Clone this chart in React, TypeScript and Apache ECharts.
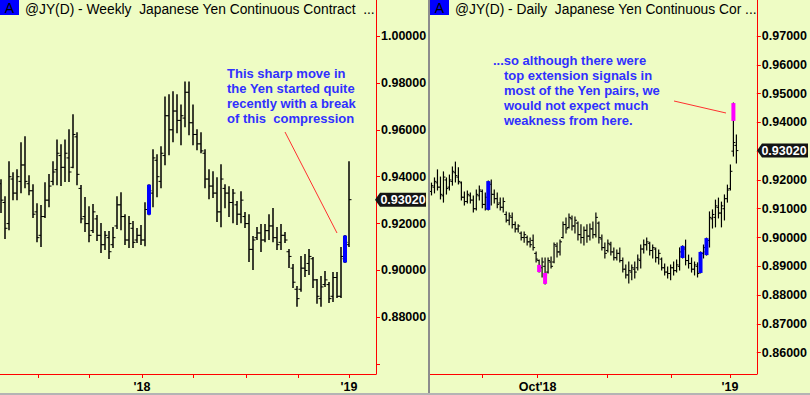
import React, { useEffect, useRef } from 'react';
import * as echarts from 'echarts';

// ---------- Weekly @JY(D) bars (open, high, low, close) ----------
const weeklyOpen = [
  0.9370, 0.9290, 0.9200, 0.9390, 0.9330, 0.9380, 0.9450, 0.9370, 0.9340, 0.9250,
  0.9150, 0.9230, 0.9300, 0.9380, 0.9430, 0.9490, 0.9440, 0.9480, 0.9440, 0.9570,
  0.9350, 0.9230, 0.9200, 0.9170, 0.9220, 0.9150, 0.9110, 0.9140, 0.9110, 0.9190,
  0.9280, 0.9230, 0.9130, 0.9180, 0.9130, 0.9150, 0.9130, 0.9260, 0.9330, 0.9470,
  0.9380, 0.9490, 0.9660, 0.9600, 0.9680, 0.9640, 0.9650, 0.9760, 0.9630, 0.9580,
  0.9540, 0.9500, 0.9390, 0.9360, 0.9330, 0.9250, 0.9350, 0.9330, 0.9290, 0.9280,
  0.9240, 0.9230, 0.9200, 0.9090, 0.9140, 0.9160, 0.9130, 0.9170, 0.9190, 0.9140,
  0.9120, 0.9150, 0.9080, 0.9010, 0.8920, 0.8920, 0.9010, 0.9030, 0.9050, 0.8960,
  0.8880, 0.8940, 0.8940, 0.8890, 0.8970, 0.8890, 0.9050, 0.9110,
];
const weeklyHigh = [
  0.9387, 0.9315, 0.9464, 0.9417, 0.9430, 0.9545, 0.9570, 0.9404, 0.9366, 0.9285,
  0.9277, 0.9374, 0.9409, 0.9464, 0.9557, 0.9536, 0.9557, 0.9600, 0.9664, 0.9587,
  0.9362, 0.9311, 0.9272, 0.9281, 0.9234, 0.9200, 0.9166, 0.9166, 0.9183, 0.9315,
  0.9332, 0.9238, 0.9230, 0.9209, 0.9179, 0.9192, 0.9289, 0.9366, 0.9515, 0.9494,
  0.9528, 0.9740, 0.9749, 0.9762, 0.9749, 0.9706, 0.9804, 0.9804, 0.9706, 0.9600,
  0.9587, 0.9515, 0.9430, 0.9421, 0.9396, 0.9451, 0.9366, 0.9357, 0.9345, 0.9294,
  0.9336, 0.9247, 0.9238, 0.9145, 0.9183, 0.9196, 0.9196, 0.9238, 0.9264, 0.9183,
  0.9196, 0.9162, 0.9089, 0.9026, 0.8932, 0.9060, 0.9068, 0.9089, 0.9055, 0.8962,
  0.8974, 0.8996, 0.8949, 0.8991, 0.8991, 0.9098, 0.9149, 0.9464,
];
const weeklyLow = [
  0.9247, 0.9136, 0.9174, 0.9302, 0.9302, 0.9332, 0.9353, 0.9323, 0.9226, 0.9123,
  0.9102, 0.9226, 0.9272, 0.9366, 0.9366, 0.9362, 0.9379, 0.9379, 0.9438, 0.9366,
  0.9204, 0.9166, 0.9123, 0.9162, 0.9128, 0.9077, 0.9089, 0.9051, 0.9098, 0.9179,
  0.9174, 0.9111, 0.9098, 0.9098, 0.9119, 0.9111, 0.9106, 0.9238, 0.9272, 0.9315,
  0.9353, 0.9451, 0.9494, 0.9549, 0.9587, 0.9536, 0.9613, 0.9579, 0.9536, 0.9515,
  0.9502, 0.9353, 0.9306, 0.9311, 0.9209, 0.9187, 0.9268, 0.9230, 0.9204, 0.9196,
  0.9204, 0.9183, 0.9038, 0.9004, 0.9132, 0.9081, 0.9123, 0.9132, 0.9123, 0.9089,
  0.9089, 0.9119, 0.9013, 0.8928, 0.8847, 0.8911, 0.8974, 0.8983, 0.8928, 0.8860,
  0.8847, 0.8932, 0.8864, 0.8868, 0.8885, 0.8885, 0.9034, 0.9102,
];
const weeklyClose = [
  0.9300, 0.9180, 0.9400, 0.9330, 0.9400, 0.9450, 0.9380, 0.9340, 0.9240, 0.9140,
  0.9230, 0.9300, 0.9360, 0.9420, 0.9500, 0.9440, 0.9500, 0.9420, 0.9580, 0.9410,
  0.9220, 0.9200, 0.9150, 0.9250, 0.9150, 0.9110, 0.9150, 0.9080, 0.9140, 0.9280,
  0.9230, 0.9130, 0.9200, 0.9120, 0.9150, 0.9130, 0.9260, 0.9340, 0.9480, 0.9400,
  0.9500, 0.9660, 0.9600, 0.9680, 0.9640, 0.9660, 0.9760, 0.9630, 0.9580, 0.9540,
  0.9510, 0.9390, 0.9360, 0.9330, 0.9250, 0.9390, 0.9330, 0.9290, 0.9330, 0.9240,
  0.9300, 0.9200, 0.9090, 0.9130, 0.9160, 0.9130, 0.9170, 0.9190, 0.9140, 0.9110,
  0.9150, 0.9130, 0.9060, 0.8950, 0.8880, 0.9010, 0.9000, 0.9060, 0.8960, 0.8890,
  0.8930, 0.8960, 0.8880, 0.8970, 0.8890, 0.9060, 0.9120, 0.9302,
];
// painted (signal) weekly bars
const weeklyPaintIdx = [37, 86];
const weeklyPaintColor = ['#0000ff', '#0000ff'];

// ---------- Daily @JY(D) bars (open, high, low, close) ----------
const dailyOpen = [
  0.9160, 0.9175, 0.9190, 0.9175, 0.9145, 0.9200, 0.9175, 0.9195, 0.9225, 0.9210,
  0.9190, 0.9140, 0.9125, 0.9145, 0.9130, 0.9100, 0.9145, 0.9160, 0.9115, 0.9100,
  0.9185, 0.9150, 0.9135, 0.9120, 0.9105, 0.9080, 0.9060, 0.9070, 0.9045, 0.9030,
  0.9015, 0.9000, 0.9000, 0.8985, 0.8990, 0.8945, 0.8920, 0.8895, 0.8900, 0.8880,
  0.8915, 0.8915, 0.8970, 0.8950, 0.9000, 0.9045, 0.9035, 0.9065, 0.9040, 0.9050,
  0.9010, 0.9000, 0.9025, 0.9005, 0.9030, 0.9010, 0.9050, 0.8995, 0.8965, 0.8955,
  0.8975, 0.8950, 0.8930, 0.8945, 0.8920, 0.8890, 0.8870, 0.8880, 0.8890, 0.8895,
  0.8920, 0.8960, 0.8975, 0.8980, 0.8955, 0.8960, 0.8930, 0.8925, 0.8895, 0.8880,
  0.8875, 0.8895, 0.8885, 0.8900, 0.8935, 0.8960, 0.8920, 0.8910, 0.8890, 0.8900,
  0.8880, 0.8945, 0.8950, 0.8990, 0.9065, 0.9070, 0.9105, 0.9085, 0.9100, 0.9135,
  0.9170, 0.9300, 0.9320,
];
const dailyHigh = [
  0.9189, 0.9207, 0.9235, 0.9210, 0.9228, 0.9207, 0.9217, 0.9245, 0.9262, 0.9242,
  0.9193, 0.9158, 0.9162, 0.9155, 0.9144, 0.9165, 0.9179, 0.9165, 0.9155, 0.9196,
  0.9200, 0.9165, 0.9155, 0.9137, 0.9137, 0.9089, 0.9085, 0.9085, 0.9054, 0.9044,
  0.9019, 0.9019, 0.9005, 0.8998, 0.9009, 0.8950, 0.8922, 0.8929, 0.8929, 0.8929,
  0.8932, 0.8981, 0.8981, 0.8991, 0.9054, 0.9068, 0.9082, 0.9075, 0.9071, 0.9054,
  0.9044, 0.9037, 0.9044, 0.9047, 0.9054, 0.9085, 0.9054, 0.9009, 0.8981, 0.8991,
  0.8984, 0.8964, 0.8957, 0.8964, 0.8929, 0.8905, 0.8915, 0.8905, 0.8915, 0.8939,
  0.8974, 0.8991, 0.8998, 0.8984, 0.8974, 0.8964, 0.8957, 0.8929, 0.8908, 0.8898,
  0.8905, 0.8915, 0.8922, 0.8964, 0.8971, 0.8991, 0.8939, 0.8929, 0.8915, 0.8912,
  0.8950, 0.8974, 0.8998, 0.9089, 0.9096, 0.9130, 0.9137, 0.9123, 0.9148, 0.9182,
  0.9252, 0.9467, 0.9356,
];
const dailyLow = [
  0.9148, 0.9155, 0.9165, 0.9134, 0.9123, 0.9151, 0.9165, 0.9182, 0.9193, 0.9186,
  0.9130, 0.9113, 0.9120, 0.9120, 0.9089, 0.9096, 0.9130, 0.9103, 0.9096, 0.9096,
  0.9113, 0.9120, 0.9103, 0.9096, 0.9089, 0.9054, 0.9044, 0.9033, 0.9019, 0.9019,
  0.8991, 0.8984, 0.8974, 0.8967, 0.8957, 0.8915, 0.8880, 0.8863, 0.8839, 0.8877,
  0.8894, 0.8912, 0.8932, 0.8939, 0.8998, 0.9016, 0.9033, 0.9026, 0.9016, 0.8991,
  0.8981, 0.8974, 0.8984, 0.8991, 0.8998, 0.9002, 0.8981, 0.8957, 0.8929, 0.8950,
  0.8939, 0.8922, 0.8922, 0.8915, 0.8880, 0.8859, 0.8842, 0.8853, 0.8859, 0.8887,
  0.8894, 0.8946, 0.8957, 0.8939, 0.8929, 0.8915, 0.8908, 0.8887, 0.8870, 0.8859,
  0.8853, 0.8870, 0.8880, 0.8887, 0.8929, 0.8905, 0.8894, 0.8880, 0.8870, 0.8863,
  0.8877, 0.8929, 0.8939, 0.8967, 0.9033, 0.9037, 0.9068, 0.9037, 0.9061, 0.9123,
  0.9165, 0.9283, 0.9259,
];
const dailyClose = [
  0.9180, 0.9195, 0.9175, 0.9150, 0.9210, 0.9170, 0.9200, 0.9230, 0.9215, 0.9195,
  0.9140, 0.9125, 0.9150, 0.9130, 0.9100, 0.9150, 0.9165, 0.9115, 0.9140, 0.9190,
  0.9150, 0.9135, 0.9115, 0.9105, 0.9125, 0.9060, 0.9075, 0.9045, 0.9030, 0.9040,
  0.9000, 0.9010, 0.8985, 0.8975, 0.8965, 0.8925, 0.8895, 0.8915, 0.8870, 0.8920,
  0.8900, 0.8975, 0.8950, 0.8985, 0.9045, 0.9030, 0.9070, 0.9040, 0.9060, 0.9010,
  0.9000, 0.9025, 0.9005, 0.9030, 0.9010, 0.9070, 0.9000, 0.8965, 0.8945, 0.8980,
  0.8950, 0.8930, 0.8945, 0.8920, 0.8890, 0.8870, 0.8885, 0.8895, 0.8880, 0.8925,
  0.8960, 0.8975, 0.8985, 0.8955, 0.8965, 0.8930, 0.8945, 0.8895, 0.8880, 0.8875,
  0.8895, 0.8885, 0.8905, 0.8950, 0.8965, 0.8920, 0.8910, 0.8890, 0.8905, 0.8875,
  0.8945, 0.8965, 0.8990, 0.9070, 0.9080, 0.9110, 0.9085, 0.9110, 0.9135, 0.9165,
  0.9230, 0.9330, 0.9302,
];
// painted (signal) daily bars: index, colour, painted range
const dailyPaintIdx = [19, 36, 38, 84, 90, 92, 101];
const dailyPaintColor = ['#0000ff', '#ff00ff', '#ff00ff', '#0000ff', '#0000ff', '#0000ff', '#ff00ff'];
const dailyPaintHigh = [0.9196, 0.8905, 0.8877, 0.8971, 0.8950, 0.8998, 0.9467];
const dailyPaintLow = [0.9096, 0.8880, 0.8839, 0.8929, 0.8877, 0.8939, 0.9405];

// ---------- Axis ticks / labels ----------
const weeklyPriceTicks = [0.86, 0.88, 0.9, 0.92, 0.94, 0.96, 0.98, 1.0];
const weeklyPriceLabels = [0.88, 0.9, 0.92, 0.94, 0.96, 0.98, 1.0];
const dailyPriceTicks = [0.86, 0.87, 0.88, 0.89, 0.9, 0.91, 0.92, 0.93, 0.94, 0.95, 0.96, 0.97];
const weeklyTimeTicks = [9.25, 22, 35.25, 48, 61.25, 74.25, 87];
const weeklyTimeLabelPos = [35.25, 87];
const weeklyTimeLabelText = ["'18", "'19"];
const dailyTimeTicks = [16.83, 35.5, 58.83, 80.17, 99.83];
const dailyTimeLabelPos = [35.5, 99.83];
const dailyTimeLabelText = ["Oct'18", "'19"];

const weeklyTitle = '@JY(D) - Weekly  Japanese Yen Continuous Contract  ...';
const dailyTitle = '@JY(D) - Daily  Japanese Yen Continuous Cor ...';
const weeklyNote = ['This sharp move in', 'the Yen started quite', 'recently with a break', 'of this  compression'];
const dailyNote = ['...so although there were', 'top extension signals in', 'most of the Yen pairs, we', 'would not expect much', 'weakness from here.'];

const BG = '#eefcc4';
const RED = '#ff0000';
const NOTE = '#3030ff';
const W = 810;
const H = 395;

function ohlcRender(lineW: number, tick: number) {
  return (params: any, api: any) => {
    const x = api.value(0);
    const pH = api.coord([x, api.value(2)]);
    const pL = api.coord([x, api.value(3)]);
    const pO = api.coord([x, api.value(1)]);
    const pC = api.coord([x, api.value(4)]);
    const cx = pH[0];
    const st = { stroke: '#000', lineWidth: lineW };
    return {
      type: 'group',
      children: [
        { type: 'line', shape: { x1: cx, y1: pH[1] - 0.5, x2: cx, y2: pL[1] + 0.5 }, style: st },
        { type: 'line', shape: { x1: cx - tick, y1: pO[1], x2: cx, y2: pO[1] }, style: { stroke: '#000', lineWidth: 1 } },
        { type: 'line', shape: { x1: cx, y1: pC[1], x2: cx + tick, y2: pC[1] }, style: { stroke: '#000', lineWidth: 1 } },
      ],
    };
  };
}

function paintRender(width: number) {
  return (params: any, api: any) => {
    const x = api.value(0);
    const a = api.coord([x, api.value(1)]);
    const b = api.coord([x, api.value(2)]);
    return {
      type: 'rect',
      shape: { x: a[0] - width / 2, y: a[1], width, height: b[1] - a[1] },
      style: { fill: api.visual('color') },
    };
  };
}

function pick(pos: number[], txt: string[], v: number) {
  let best = 0;
  for (let i = 1; i < pos.length; i++) if (Math.abs(pos[i] - v) < Math.abs(pos[best] - v)) best = i;
  return txt[best];
}

export default function App() {
  const ref = useRef<HTMLDivElement>(null);
  useEffect(() => {
    const chart = echarts.init(ref.current as HTMLDivElement, null, { renderer: 'svg' });
    const labelFont = { color: '#000', fontWeight: 'bold', fontSize: 12.5, fontFamily: 'Arial' };

    const weeklyData = weeklyOpen.map((o, i) => [i, o, weeklyHigh[i], weeklyLow[i], weeklyClose[i]]);
    const dailyData = dailyOpen.map((o, i) => [i, o, dailyHigh[i], dailyLow[i], dailyClose[i]]);
    const weeklyPaint = weeklyPaintIdx.map((idx, k) => ({
      value: [idx, weeklyHigh[idx], weeklyLow[idx]],
      itemStyle: { color: weeklyPaintColor[k] },
    }));
    const dailyPaint = dailyPaintIdx.map((idx, k) => ({
      value: [idx, dailyPaintHigh[k], dailyPaintLow[k]],
      itemStyle: { color: dailyPaintColor[k] },
    }));

    const option: any = {
      animation: false,
      backgroundColor: BG,
      grid: [
        { left: 0, top: 0, width: 376, height: 374 },
        { left: 429, top: 0, width: 329, height: 374 },
      ],
      xAxis: [
        {
          gridIndex: 0, type: 'value', min: -0.25, max: 93.75,
          axisLine: { show: true, onZero: false, lineStyle: { color: RED, width: 1 } },
          axisTick: { show: true, length: 4, lineStyle: { color: RED }, customValues: weeklyTimeTicks },
          axisLabel: { ...labelFont, margin: 6, customValues: weeklyTimeLabelPos, formatter: (v: number) => pick(weeklyTimeLabelPos, weeklyTimeLabelText, v) },
          splitLine: { show: false },
        },
        {
          gridIndex: 1, type: 'value', min: -0.8333, max: 108.8333,
          axisLine: { show: true, onZero: false, lineStyle: { color: RED, width: 1 } },
          axisTick: { show: true, length: 4, lineStyle: { color: RED }, customValues: dailyTimeTicks },
          axisLabel: { ...labelFont, margin: 6, customValues: dailyTimeLabelPos, formatter: (v: number) => pick(dailyTimeLabelPos, dailyTimeLabelText, v) },
          splitLine: { show: false },
        },
      ],
      yAxis: [
        {
          gridIndex: 0, type: 'value', position: 'right', min: 0.85586, max: 1.01535,
          axisLine: { show: true, onZero: false, lineStyle: { color: RED, width: 1 } },
          axisTick: { show: true, length: 4, lineStyle: { color: RED }, customValues: weeklyPriceTicks },
          axisLabel: { ...labelFont, margin: 5, customValues: weeklyPriceLabels, formatter: (v: number) => v.toFixed(5) },
          splitLine: { show: false },
        },
        {
          gridIndex: 1, type: 'value', position: 'right', min: 0.8526, max: 0.9825,
          axisLine: { show: true, onZero: false, lineStyle: { color: RED, width: 1 } },
          axisTick: { show: true, length: 4, lineStyle: { color: RED }, customValues: dailyPriceTicks },
          axisLabel: { ...labelFont, margin: 5, customValues: dailyPriceTicks, formatter: (v: number) => v.toFixed(5) },
          splitLine: { show: false },
        },
      ],
      series: [
        { type: 'custom', xAxisIndex: 0, yAxisIndex: 0, renderItem: ohlcRender(1.5, 2.5), data: weeklyData, clip: true, encode: { x: 0, y: [1, 2, 3, 4] } },
        { type: 'custom', xAxisIndex: 0, yAxisIndex: 0, renderItem: paintRender(4), data: weeklyPaint, clip: true, encode: { x: 0, y: [1, 2] } },
        { type: 'custom', xAxisIndex: 1, yAxisIndex: 1, renderItem: ohlcRender(1.2, 2), data: dailyData, clip: true, encode: { x: 0, y: [1, 2, 3, 4] } },
        { type: 'custom', xAxisIndex: 1, yAxisIndex: 1, renderItem: paintRender(4), data: dailyPaint, clip: true, encode: { x: 0, y: [1, 2] } },
      ],
    };
    chart.setOption(option);

    const lastW = weeklyClose[weeklyClose.length - 1];
    const lastD = dailyClose[dailyClose.length - 1];
    const yW = chart.convertToPixel({ yAxisIndex: 0 }, lastW) as number;
    const yD = chart.convertToPixel({ yAxisIndex: 1 }, lastD) as number;

    const priceTag = (tipX: number, right: number, cy: number, txt: string, tx: number) => [
      {
        type: 'polygon',
        shape: { points: [[tipX, cy], [tipX + 5, cy - 7], [right, cy - 7], [right, cy + 7], [tipX + 5, cy + 7]] },
        style: { fill: '#141414' },
        z: 100,
      },
      {
        type: 'text', x: tx, y: cy + 0.5, z: 101,
        style: { text: txt, fill: '#fff', font: 'bold 12.5px Arial', textAlign: 'center', textVerticalAlign: 'middle' },
      },
    ];

    const titleBlock = (x0: number, title: string) => [
      { type: 'rect', shape: { x: x0, y: 0, width: 19, height: 15 }, style: { fill: '#0000ff' }, z: 100 },
      { type: 'text', x: x0 + 9.5, y: 8, z: 101, style: { text: 'A', fill: '#000', font: '14px Arial', textAlign: 'center', textVerticalAlign: 'middle' } },
      { type: 'text', x: x0 + 25, y: 9, z: 101, style: { text: title, fill: '#000', font: '13.8px Arial', textAlign: 'left', textVerticalAlign: 'middle' } },
    ];

    const noteLines = (lines: string[], xs: number[], y0: number) =>
      lines.map((t, k) => ({
        type: 'text', x: xs[k], y: y0 + k * 15, z: 101,
        style: { text: t, fill: NOTE, font: 'bold 13px Arial', textAlign: 'left', textVerticalAlign: 'middle' },
      }));

    chart.setOption({
      graphic: [
        ...titleBlock(0, weeklyTitle),
        ...titleBlock(430, dailyTitle),
        ...noteLines(weeklyNote, [227, 227, 227, 227], 73),
        ...noteLines(dailyNote, [493, 504, 504, 504, 504], 60),
        { type: 'line', shape: { x1: 285, y1: 132, x2: 337, y2: 233 }, style: { stroke: '#ff3030', lineWidth: 1 }, z: 100 },
        { type: 'line', shape: { x1: 674, y1: 101, x2: 726, y2: 113 }, style: { stroke: '#ff3030', lineWidth: 1 }, z: 100 },
        ...priceTag(375, 426, yW, lastW.toFixed(5), 403),
        ...priceTag(757, 808, yD, lastD.toFixed(5), 784),
        { type: 'rect', shape: { x: 428, y: 0, width: 2, height: H }, style: { fill: '#8c8c8c' }, z: 100 },
        { type: 'rect', shape: { x: 0, y: H - 2, width: W, height: 2 }, style: { fill: '#b4b4b4' }, z: 100 },
      ],
    });

    return () => chart.dispose();
  }, []);

  return <div ref={ref} style={{ position: 'fixed', left: 0, top: 0, width: W, height: H }} />;
}
